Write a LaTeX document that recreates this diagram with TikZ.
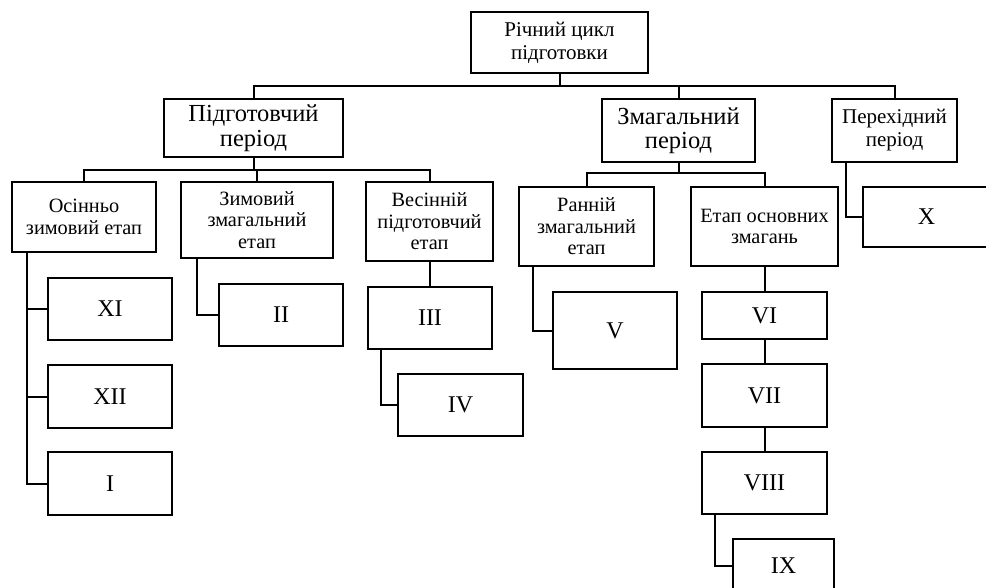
\documentclass[tikz,border=0pt]{standalone}
\usepackage{fontspec}
\setmainfont{Liberation Serif}
\begin{document}
\begin{tikzpicture}[x=1pt,y=-1pt,
  box/.style={draw, line width=2pt, inner sep=0pt, outer sep=0pt, align=center},
  topf/.style={font=\fontsize{21}{23}\selectfont},
  perf/.style={font=\fontsize{24.5}{24.5}\selectfont},
  perf2/.style={font=\fontsize{21}{23}\selectfont},
  stf/.style={font=\fontsize{20.3}{21.5}\selectfont},
  numf/.style={font=\fontsize{24}{26}\selectfont},
  ln/.style={line width=2pt}]
\useasboundingbox (0,0) rectangle (986,588);
\begin{scope}
\clip (0,0) rectangle (986,588);
\node[box,topf,minimum width=177,minimum height=61] (top) at (559.5,42.5) {Річний цикл\\підготовки};
\node[box,perf,minimum width=179,minimum height=58] (pp) at (253.5,128) {Підготовчий\\період};
\node[box,perf,minimum width=153,minimum height=63] (zp) at (678.5,130.5) {Змагальний\\період};
\node[box,perf2,minimum width=125,minimum height=63] (per) at (894.5,130.5) {Перехідний\\період};
\node[box,stf,minimum width=144,minimum height=70] (oz) at (84,217) {Осінньо\\зимовий етап};
\node[box,stf,minimum width=152,minimum height=76] (zz) at (257,220) {Зимовий\\змагальний\\етап};
\node[box,stf,minimum width=127,minimum height=79] (vp) at (429.5,221.5) {Весінній\\підготовчий\\етап};
\node[box,stf,minimum width=135,minimum height=79] (rz) at (586.5,226.5) {Ранній\\змагальний\\етап};
\node[box,stf,minimum width=147,minimum height=79] (eo) at (764.5,226.5) {Етап основних\\змагань};
\node[box,numf,minimum width=127,minimum height=60] (X) at (926.5,217) {X};
\node[box,numf,minimum width=124,minimum height=62] (XI) at (110,309) {XI};
\node[box,numf,minimum width=124,minimum height=63] (XII) at (110,396.5) {XII};
\node[box,numf,minimum width=124,minimum height=63] (I) at (110,483.5) {I};
\node[box,numf,minimum width=124,minimum height=62] (II) at (281,315) {II};
\node[box,numf,minimum width=124,minimum height=62] (III) at (430,318) {III};
\node[box,numf,minimum width=125,minimum height=62] (IV) at (460.5,405) {IV};
\node[box,numf,minimum width=124,minimum height=77] (V) at (615,330.5) {V};
\node[box,numf,minimum width=125,minimum height=47] (VI) at (764.5,315.5) {VI};
\node[box,numf,minimum width=125,minimum height=63] (VII) at (764.5,395.5) {VII};
\node[box,numf,minimum width=125,minimum height=62] (VIII) at (764.5,483) {VIII};
\node[box,numf,minimum width=101,minimum height=53] (IX) at (783.5,565.5) {IX};
\coordinate (b1) at (0,86);
\coordinate (b2) at (0,170);
\coordinate (b3) at (0,173);
\draw[ln] (top.south) -- (top.south |- b1);
\draw[ln] (pp.north) -- (pp.north |- b1) -- (per.north |- b1) -- (per.north);
\draw[ln] (zp.north) -- (zp.north |- b1);
\draw[ln] (pp.south) -- (pp.south |- b2);
\draw[ln] (oz.north) -- (oz.north |- b2) -- (vp.north |- b2) -- (vp.north);
\draw[ln] (zz.north) -- (zz.north |- b2);
\draw[ln] (zp.south) -- (zp.south |- b3);
\draw[ln] (rz.north) -- (rz.north |- b3) -- (eo.north |- b3) -- (eo.north);
\draw[ln] ([xshift=14pt]per.south west) |- (X.west);
\draw[ln] ([xshift=15pt]oz.south west) |- (I.west);
\draw[ln] ([xshift=15pt]oz.south west |- XI.west) -- (XI.west);
\draw[ln] ([xshift=15pt]oz.south west |- XII.west) -- (XII.west);
\draw[ln] ([xshift=16pt]zz.south west) |- (II.west);
\draw[ln] (vp.south) -- (vp.south |- III.north);
\draw[ln] ([xshift=13pt]III.south west) |- (IV.west);
\draw[ln] ([xshift=14pt]rz.south west) |- (V.west);
\draw[ln] (eo.south) -- (VI.north);
\draw[ln] (VI.south) -- (VII.north);
\draw[ln] (VII.south) -- (VIII.north);
\draw[ln] ([xshift=13pt]VIII.south west) |- (IX.west);
\end{scope}
\end{tikzpicture}
\end{document}
